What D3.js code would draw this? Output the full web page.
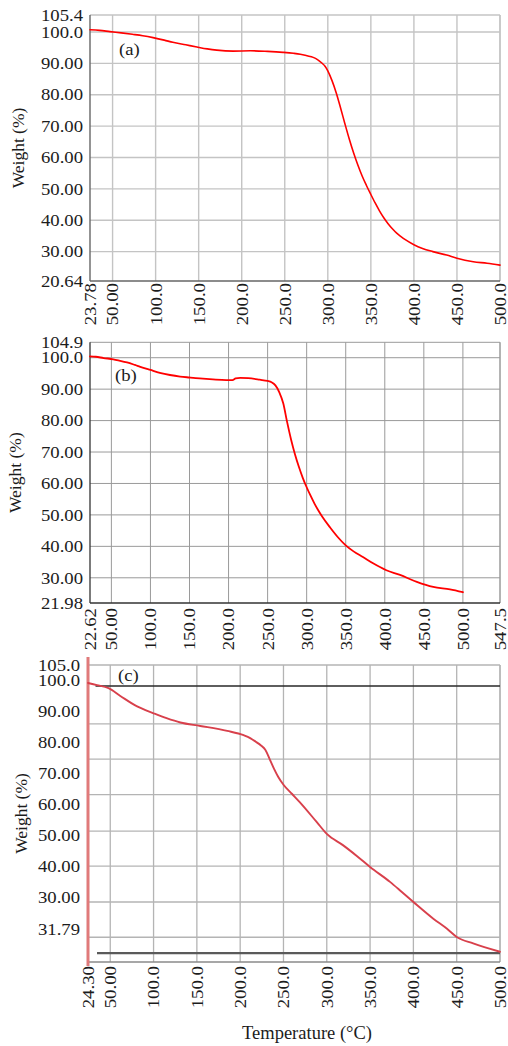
<!DOCTYPE html>
<html>
<head>
<meta charset="utf-8">
<script src="https://cdn.jsdelivr.net/npm/d3@7"></script>
<style>
  html, body { margin: 0; padding: 0; background: #fff; }
  svg { display: block; }
</style>
</head>
<body>
<svg id="chart" width="508" height="1046"></svg>
<script>
// ---- Sample (a) ----
const tempA   = [23.78, 35, 47, 60, 73, 85, 97, 110, 120, 135, 148, 160, 171, 190, 210, 230, 248, 260, 268, 276, 283, 288, 293, 297, 300, 305, 310, 315, 320, 325, 330, 335, 340, 345, 350, 355, 360, 365, 370, 375, 380, 385, 390, 400, 410, 422, 438, 450, 469, 485, 500];
const weightA = [100.7, 100.5, 100.1, 99.7, 99.25, 98.8, 98.2, 97.4, 96.7, 95.9, 95.2, 94.6, 94.2, 93.9, 94.0, 93.8, 93.5, 93.2, 92.9, 92.4, 91.9, 91.2, 90.1, 89.0, 87.6, 84.4, 80.4, 75.6, 70.6, 65.8, 61.4, 57.5, 54.0, 51.0, 48.2, 45.5, 43.0, 40.8, 38.9, 37.3, 35.9, 34.8, 33.8, 32.2, 31.0, 30.0, 28.9, 27.9, 26.8, 26.3, 25.7];
const xTicksA  = [23.78, 50, 100, 150, 200, 250, 300, 350, 400, 450, 500];
const xLabelsA = ["23.78", "50.00", "100.0", "150.0", "200.0", "250.0", "300.0", "350.0", "400.0", "450.0", "500.0"];
const yTicksA  = [105.4, 100, 90, 80, 70, 60, 50, 40, 30, 20.64];
const yLabelsA = ["105.4", "100.0", "90.00", "80.00", "70.00", "60.00", "50.00", "40.00", "30.00", "20.64"];

// ---- Sample (b) ----
const tempB   = [22.62, 30, 40, 52.5, 60, 70, 80, 87, 100, 112, 125, 138, 150, 163, 180, 197, 205, 209, 215, 225, 240, 250, 255, 260, 265, 270, 275, 280, 285, 290, 295, 300, 305, 310, 315, 320, 330, 340, 350, 360, 372, 385, 402, 419.5, 441, 462, 483.5, 500];
const weightB = [100.4, 100.3, 99.9, 99.5, 99.1, 98.5, 97.7, 97.1, 96.1, 95.2, 94.5, 94.0, 93.7, 93.4, 93.1, 92.9, 92.9, 93.4, 93.6, 93.5, 93.0, 92.6, 92.2, 91.2, 89.0, 85.5, 79.5, 74.0, 69.3, 65.3, 61.8, 58.8, 56.1, 53.6, 51.4, 49.4, 46.0, 42.9, 40.3, 38.4, 36.6, 34.6, 32.4, 30.9, 28.7, 27.1, 26.3, 25.4];
const xTicksB  = [22.62, 50, 100, 150, 200, 250, 300, 350, 400, 450, 500, 547.5];
const xLabelsB = ["22.62", "50.00", "100.0", "150.0", "200.0", "250.0", "300.0", "350.0", "400.0", "450.0", "500.0", "547.5"];
const yTicksB  = [104.9, 100, 90, 80, 70, 60, 50, 40, 30, 21.98];
const yLabelsB = ["104.9", "100.0", "90.00", "80.00", "70.00", "60.00", "50.00", "40.00", "30.00", "21.98"];

// ---- Sample (c) ----
const tempC   = [24.3, 34.7, 48, 61.6, 81, 100, 115, 131, 154, 185, 204, 212, 218, 224, 229, 234, 239, 244, 250, 260, 269, 288.5, 300, 319, 335, 350, 373, 386, 400, 423, 438.5, 450, 469, 500];
const weightC = [99.2, 98.5, 97.5, 95.0, 91.6, 89.4, 87.8, 86.4, 85.3, 83.7, 82.3, 81.3, 80.2, 79.0, 77.6, 74.6, 71.5, 68.8, 66.3, 63.3, 60.6, 54.2, 50.4, 46.7, 43.2, 39.7, 34.9, 31.8, 28.4, 23.0, 19.8, 17.1, 15.0, 12.3];
const xTicksC  = [24.3, 50, 100, 150, 200, 250, 300, 350, 400, 450, 500];
const xLabelsC = ["24.30", "50.00", "100.0", "150.0", "200.0", "250.0", "300.0", "350.0", "400.0", "450.0", "500.0"];
const yTicksC  = [105, 100, 90, 80, 70, 60, 50, 40, 30, 19.6];
const yLabelsC = ["105.0", "100.0", "90.00", "80.00", "70.00", "60.00", "50.00", "40.00", "30.00", "31.79"];
const yGridC   = [86.0, 74.6, 63.1, 51.3, 40.0, 28.4, 17.0];
const refLineC = 98.2;
const residueLineC = 11.9;

const FONT = "'Liberation Serif', 'Times New Roman', serif";
const TEXT = "#1c1c1c";
const svg = d3.select("#chart");

const defs = svg.append("defs");
defs.append("filter").attr("id", "soft")
  .append("feGaussianBlur").attr("stdDeviation", 0.45);

function panel(o) {
  const x = d3.scaleLinear().domain(o.xDomain).range([o.left, o.right]);
  const y = d3.scaleLinear().domain(o.yDomain).range([o.bottom, o.top]);
  const g = svg.append("g");
  const lines = g.append("g").attr("filter", o.soft ? "url(#soft)" : null);

  // vertical grid
  lines.selectAll(".vg").data(o.xTicks.slice(1)).join("line")
    .attr("x1", d => x(d)).attr("x2", d => x(d))
    .attr("y1", o.top).attr("y2", o.bottom)
    .attr("stroke", o.grid).attr("stroke-width", o.gridW);
  // horizontal grid
  lines.selectAll(".hg").data(o.yGrid).join("line")
    .attr("x1", o.left).attr("x2", o.right)
    .attr("y1", d => y(d)).attr("y2", d => y(d))
    .attr("stroke", o.grid).attr("stroke-width", o.gridW);
  // top and right frame
  lines.append("line").attr("x1", o.left).attr("x2", o.right)
    .attr("y1", o.top).attr("y2", o.top)
    .attr("stroke", o.grid).attr("stroke-width", o.gridW);
  lines.append("line").attr("x1", o.right).attr("x2", o.right)
    .attr("y1", o.top).attr("y2", o.bottom)
    .attr("stroke", o.grid).attr("stroke-width", o.gridW);

  if (o.extra) o.extra(lines, x, y);

  // axes
  lines.append("line").attr("x1", o.left).attr("x2", o.right)
    .attr("y1", o.bottom).attr("y2", o.bottom)
    .attr("stroke", o.axis).attr("stroke-width", o.axisW);
  lines.append("line").attr("x1", o.left).attr("x2", o.left)
    .attr("y1", o.leftAxisTop ?? o.top).attr("y2", o.leftAxisBottom ?? o.bottom)
    .attr("stroke", o.leftAxis || o.axis).attr("stroke-width", o.leftAxisW || o.axisW);

  // weight curve
  const pts = o.temps.map((t, i) => [t, o.weights[i]]);
  lines.append("path").datum(pts)
    .attr("fill", "none").attr("stroke", o.curve).attr("stroke-width", o.curveW)
    .attr("stroke-linejoin", "round").attr("stroke-linecap", "round")
    .attr("d", d3.line().x(d => x(d[0])).y(d => y(d[1])).curve(d3.curveMonotoneX));

  // y tick labels
  g.selectAll(".yl").data(o.yTicks).join("text")
    .attr("transform", d => `translate(${o.left - o.yLabelGap},${y(d)}) scale(1.14,1)`)
    .attr("dy", "0.35em").attr("text-anchor", "end")
    .attr("font-family", FONT).attr("font-size", 16.4).attr("fill", TEXT)
    .text((d, i) => o.yLabels[i]);

  // x tick labels (rotated)
  g.selectAll(".xl").data(o.xTicks).join("text")
    .attr("transform", d => `translate(${x(d)},${o.bottom + o.xLabelGap}) rotate(-90) scale(1.12,1)`)
    .attr("dy", "0.35em").attr("text-anchor", "end")
    .attr("font-family", FONT).attr("font-size", 16.8).attr("fill", TEXT)
    .text((d, i) => o.xLabels[i]);

  // panel tag
  g.append("text")
    .attr("transform", `translate(${o.tagX},${o.tagY}) scale(1.1,1)`)
    .attr("dy", "0.35em")
    .attr("font-family", FONT).attr("font-size", 17).attr("fill", TEXT)
    .text(o.tag);

  // y title
  g.append("text")
    .attr("transform", `translate(${o.titleX},${(o.top + o.bottom) / 2}) rotate(-90)`)
    .attr("dy", "0.35em").attr("text-anchor", "middle")
    .attr("font-family", FONT).attr("font-size", 17.5).attr("fill", TEXT)
    .text("Weight (%)");
}

panel({
  temps: tempA, weights: weightA,
  xDomain: [23.78, 500], yDomain: [20.64, 105.4],
  left: 90, right: 500, top: 15, bottom: 281,
  xTicks: xTicksA, xLabels: xLabelsA, yTicks: yTicksA, yLabels: yLabelsA,
  yGrid: yTicksA.slice(1, -1),
  grid: "#c4c4c4", gridW: 1.4, axis: "#666", axisW: 1.4,
  curve: "#ff0000", curveW: 1.6,
  yLabelGap: 7, xLabelGap: 2, tag: "(a)", tagX: 119, tagY: 49, titleX: 18
});

panel({
  temps: tempB, weights: weightB,
  xDomain: [22.62, 547.5], yDomain: [21.98, 104.9],
  left: 90, right: 500, top: 342.3, bottom: 603,
  xTicks: xTicksB, xLabels: xLabelsB, yTicks: yTicksB, yLabels: yLabelsB,
  yGrid: yTicksB.slice(1, -1),
  grid: "#9a9a9a", gridW: 1, axis: "#333", axisW: 1.3,
  curve: "#ff0000", curveW: 1.8,
  yLabelGap: 7, xLabelGap: 5, tag: "(b)", tagX: 115, tagY: 375, titleX: 15
});

panel({
  temps: tempC, weights: weightC,
  xDomain: [24.3, 500], yDomain: [9.0, 105.0],
  left: 88, right: 500, top: 665, bottom: 962,
  xTicks: xTicksC, xLabels: xLabelsC, yTicks: yTicksC, yLabels: yLabelsC,
  yGrid: yGridC,
  grid: "#b4b4b4", gridW: 1.3, axis: "#8a8a8a", axisW: 1.3,
  leftAxis: "#e07a7a", leftAxisW: 3, leftAxisTop: 657, leftAxisBottom: 966,
  curve: "#d8404c", curveW: 1.9, soft: true,
  yLabelGap: 8, xLabelGap: 4, tag: "(c)", tagX: 118, tagY: 675, titleX: 21,
  extra: (g, x, y) => {
    g.append("line").attr("x1", x(33)).attr("x2", x(500))
      .attr("y1", y(refLineC)).attr("y2", y(refLineC))
      .attr("stroke", "#2a2a2a").attr("stroke-width", 1.6);
    g.append("line").attr("x1", x(34.7)).attr("x2", x(500))
      .attr("y1", y(residueLineC)).attr("y2", y(residueLineC))
      .attr("stroke", "#5a5a5a").attr("stroke-width", 2.2);
  }
});

// shared x-axis title
svg.append("text")
  .attr("x", 307).attr("y", 1039)
  .attr("text-anchor", "middle")
  .attr("font-family", FONT).attr("font-size", 18.5).attr("fill", TEXT)
  .text("Temperature (°C)");
</script>
</body>
</html>
